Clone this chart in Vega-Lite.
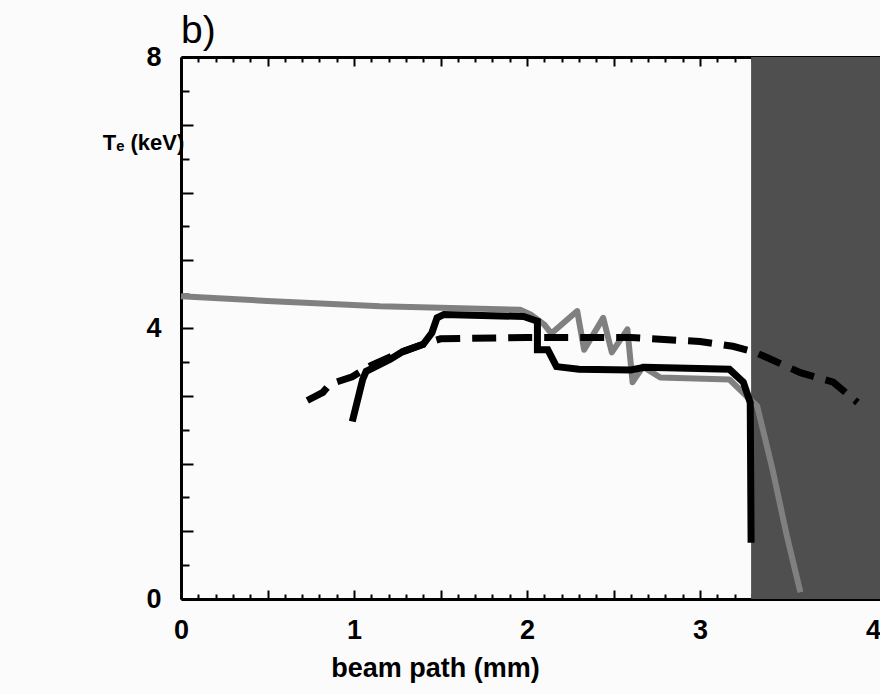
{
  "$schema": "https://vega.github.io/schema/vega-lite/v6.json",
  "width": 699,
  "height": 542,
  "autosize": "none",
  "padding": {"left": 181, "top": 57, "right": 0, "bottom": 95},
  "background": "#fbfbfb",
  "title": {"text": "b)", "anchor": "start", "frame": "group", "fontSize": 39, "fontWeight": "normal", "font": "Liberation Sans", "color": "black", "offset": 12, "baseline": "alphabetic", "dy": 51},
  "config": {"view": {"stroke": null}},
  "datasets": {
    "shade": [{"x1": 3.295, "x2": 4.04, "y1": 0, "y2": 8}],
    "gray": [
      {"x": 0.0, "T": 4.47}, {"x": 0.5, "T": 4.4}, {"x": 1.15, "T": 4.32}, {"x": 1.5, "T": 4.3},
      {"x": 1.96, "T": 4.27}, {"x": 2.02, "T": 4.2}, {"x": 2.1, "T": 4.05}, {"x": 2.14, "T": 3.92},
      {"x": 2.29, "T": 4.25}, {"x": 2.33, "T": 3.68}, {"x": 2.44, "T": 4.15}, {"x": 2.49, "T": 3.64},
      {"x": 2.58, "T": 3.98}, {"x": 2.61, "T": 3.2}, {"x": 2.67, "T": 3.43}, {"x": 2.77, "T": 3.27},
      {"x": 3.17, "T": 3.24}, {"x": 3.27, "T": 2.99}, {"x": 3.33, "T": 2.85}, {"x": 3.42, "T": 1.9},
      {"x": 3.5, "T": 0.95}, {"x": 3.58, "T": 0.1}
    ],
    "solid": [
      {"x": 0.99, "T": 2.62}, {"x": 1.05, "T": 3.24}, {"x": 1.07, "T": 3.36}, {"x": 1.21, "T": 3.54},
      {"x": 1.28, "T": 3.65}, {"x": 1.4, "T": 3.76}, {"x": 1.45, "T": 3.93}, {"x": 1.48, "T": 4.15},
      {"x": 1.52, "T": 4.2}, {"x": 1.98, "T": 4.17}, {"x": 2.06, "T": 4.1}, {"x": 2.06, "T": 3.68},
      {"x": 2.12, "T": 3.68}, {"x": 2.17, "T": 3.43}, {"x": 2.3, "T": 3.39}, {"x": 2.6, "T": 3.38},
      {"x": 2.68, "T": 3.42}, {"x": 3.17, "T": 3.39}, {"x": 3.25, "T": 3.2}, {"x": 3.29, "T": 2.9},
      {"x": 3.295, "T": 0.83}
    ],
    "dashed": [
      {"x": 0.73, "T": 2.93}, {"x": 0.82, "T": 3.05}, {"x": 0.86, "T": 3.17}, {"x": 0.99, "T": 3.28},
      {"x": 1.1, "T": 3.45}, {"x": 1.25, "T": 3.62}, {"x": 1.4, "T": 3.76}, {"x": 1.5, "T": 3.84},
      {"x": 2.0, "T": 3.86}, {"x": 2.6, "T": 3.86}, {"x": 3.0, "T": 3.8}, {"x": 3.19, "T": 3.73},
      {"x": 3.31, "T": 3.65}, {"x": 3.39, "T": 3.56}, {"x": 3.58, "T": 3.34}, {"x": 3.77, "T": 3.2},
      {"x": 3.91, "T": 2.9}
    ]
  },
  "resolve": {"axis": {"x": "independent", "y": "independent"}},
  "layer": [
    {
      "data": {"name": "shade"},
      "mark": {"type": "rect", "color": "#4f4f4f"},
      "encoding": {
        "x": {"field": "x1", "type": "quantitative", "scale": {"domain": [0, 4.04], "nice": false, "zero": false},
          "axis": {"orient": "bottom", "values": [0, 1, 2, 3, 4],
            "labelExpr": "format(datum.value, 'd')", "ticks": false,
            "labelFont": "Liberation Sans", "labelFontWeight": "bold", "labelFontSize": 27, "labelColor": "black", "labelPadding": 18, "labelFlush": false,
            "title": "beam path (mm)", "titleFont": "Liberation Sans", "titleFontWeight": "bold", "titleFontSize": 27, "titleColor": "black",
            "titleX": 254, "titleY": 69, "titleBaseline": "middle", "titleAlign": "center", "titleAnchor": null,
            "grid": false, "domainColor": "black", "domainWidth": 3}},
        "x2": {"field": "x2"},
        "y": {"field": "y1", "type": "quantitative", "scale": {"domain": [0, 8], "nice": false},
          "axis": {"orient": "left", "values": [0, 4, 8],
            "labelExpr": "format(datum.value, 'd')", "ticks": false,
            "labelFont": "Liberation Sans", "labelFontWeight": "bold", "labelFontSize": 27, "labelColor": "black", "labelPadding": 20, "labelFlush": false,
            "title": "Tₑ (keV)", "titleFont": "Liberation Sans", "titleFontWeight": "bold", "titleFontSize": 22, "titleColor": "black",
            "titleAngle": 0, "titleX": -38, "titleY": 85, "titleBaseline": "middle", "titleAlign": "center", "titleAnchor": null,
            "grid": false, "domainColor": "black", "domainWidth": 3}},
        "y2": {"field": "y2"}
      }
    },
    {
      "data": {"name": "gray"},
      "mark": {"type": "line", "color": "#808080", "strokeWidth": 6, "strokeJoin": "round"},
      "encoding": {
        "x": {"field": "x", "type": "quantitative",
          "axis": {"orient": "top", "offset": -542, "values": [0,0.1,0.2,0.3,0.4,0.5,0.6,0.7,0.8,0.9,1,1.1,1.2,1.3,1.4,1.5,1.6,1.7,1.8,1.9,2,2.1,2.2,2.3,2.4,2.5,2.6,2.7,2.8,2.9,3,3.1,3.2,3.3,3.4,3.5,3.6,3.7,3.8,3.9,4],
            "labels": false, "title": null, "grid": false, "domain": false, "tickColor": "black", "tickWidth": 2,
            "tickSize": {"condition": {"test": "abs(datum.value*2 - round(datum.value*2)) < 0.001", "value": 9}, "value": 5}}},
        "y": {"field": "T", "type": "quantitative",
          "axis": {"orient": "right", "offset": -699, "values": [0,0.5,1,1.5,2,2.5,3,3.5,4,4.5,5,5.5,6,6.5,7,7.5,8],
            "labels": false, "title": null, "grid": false, "domain": false, "tickColor": "black", "tickWidth": 2,
            "tickSize": {"condition": {"test": "datum.value % 1 == 0", "value": 12}, "value": 8}}}
      }
    },
    {
      "data": {"name": "dashed"},
      "mark": {"type": "line", "color": "black", "strokeWidth": 7, "strokeDash": [24, 12], "strokeCap": "butt"},
      "encoding": {
        "x": {"field": "x", "type": "quantitative",
          "axis": {"orient": "bottom", "offset": -542, "values": [0,0.1,0.2,0.3,0.4,0.5,0.6,0.7,0.8,0.9,1,1.1,1.2,1.3,1.4,1.5,1.6,1.7,1.8,1.9,2,2.1,2.2,2.3,2.4,2.5,2.6,2.7,2.8,2.9,3,3.1,3.2,3.3,3.4,3.5,3.6,3.7,3.8,3.9,4],
            "labels": false, "title": null, "grid": false, "domainColor": "black", "domainWidth": 3, "tickColor": "black", "tickWidth": 2,
            "tickSize": {"condition": {"test": "abs(datum.value*2 - round(datum.value*2)) < 0.001", "value": 9}, "value": 5}}},
        "y": {"field": "T", "type": "quantitative", "axis": null}
      }
    },
    {
      "data": {"name": "solid"},
      "mark": {"type": "line", "color": "black", "strokeWidth": 7, "strokeJoin": "miter"},
      "encoding": {
        "x": {"field": "x", "type": "quantitative", "axis": null},
        "y": {"field": "T", "type": "quantitative", "axis": null}
      }
    }
  ]
}
